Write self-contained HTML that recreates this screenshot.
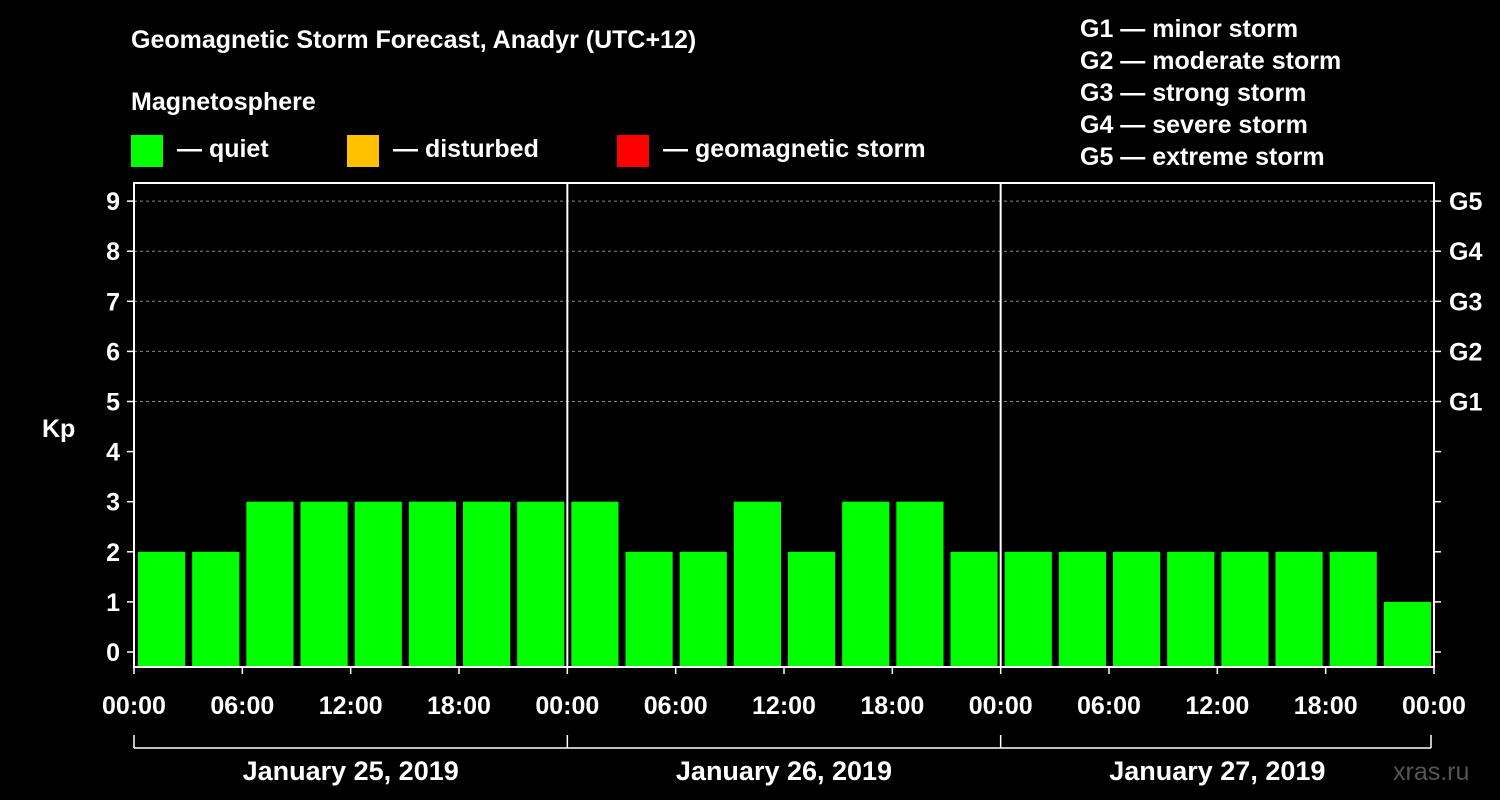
<!DOCTYPE html>
<html><head><meta charset="utf-8">
<style>
body{margin:0;background:#000;}
svg{display:block;font-family:"Liberation Sans",Arial,sans-serif;font-weight:bold;}
</style></head>
<body>
<svg id="chart" width="1500" height="800" viewBox="0 0 1500 800">
<rect width="1500" height="800" fill="#000"/>
<text x="131" y="48" fill="#fff" font-size="25">Geomagnetic Storm Forecast, Anadyr (UTC+12)</text>
<text x="131" y="110" fill="#fff" font-size="25">Magnetosphere</text>
<g><rect x="131" y="135" width="32" height="32" fill="#00ff00"/><text x="177" y="157" fill="#fff" font-size="25">— quiet</text></g>
<g><rect x="347" y="135" width="32" height="32" fill="#ffc000"/><text x="393" y="157" fill="#fff" font-size="25">— disturbed</text></g>
<g><rect x="617" y="135" width="32" height="32" fill="#ff0000"/><text x="663" y="157" fill="#fff" font-size="25">— geomagnetic storm</text></g>
<g fill="#fff" font-size="25">
<text x="1080" y="37">G1 — minor storm</text>
<text x="1080" y="69">G2 — moderate storm</text>
<text x="1080" y="101">G3 — strong storm</text>
<text x="1080" y="133">G4 — severe storm</text>
<text x="1080" y="165">G5 — extreme storm</text>
</g>
<text x="42" y="437" fill="#fff" font-size="25">Kp</text>
<g id="grid"></g><g id="bars"></g><g id="axes"></g>
<text x="1393" y="780" fill="#555" font-size="25" font-weight="normal">xras.ru</text>
</svg>
<script>
const kpValues=[2,2,3,3,3,3,3,3,3,2,2,3,2,3,3,2,2,2,2,2,2,2,2,1];
const yTicks=[0,1,2,3,4,5,6,7,8,9];
const gLabels=["G1","G2","G3","G4","G5"];
const gLevels=[5,6,7,8,9];
const timeLabels=["00:00","06:00","12:00","18:00","00:00","06:00","12:00","18:00","00:00","06:00","12:00","18:00","00:00"];
const dayLabels=["January 25, 2019","January 26, 2019","January 27, 2019"];
const NS="http://www.w3.org/2000/svg";
const L=134,R=1434,T=183,B=667;
const y=k=>652-50.1*k;
const slot=(R-L)/kpValues.length;
const x=i=>L+i*slot;
function mk(p,tag,a){const e=document.createElementNS(NS,tag);for(const k in a)e.setAttribute(k,a[k]);p.appendChild(e);return e;}
const grid=document.getElementById('grid'),bars=document.getElementById('bars'),axes=document.getElementById('axes');
gLevels.forEach(k=>{const l=mk(grid,'line',{x1:L,x2:R,y1:y(k),y2:y(k),stroke:'#888','stroke-dasharray':'3,3','stroke-width':1});

});
kpValues.forEach((v,i)=>{const c=v>=5?'#ff0000':(v>=4?'#ffc000':'#00ff00');
const r=mk(bars,'rect',{x:x(i)+4,y:y(v),width:slot-7,height:B-y(v),fill:c});

});
const f=mk(axes,'rect',{x:L,y:T,width:R-L,height:B-T,fill:'none',stroke:'#fff','stroke-width':2});


[1,2].forEach(d=>{const l=mk(axes,'line',{x1:x(d*8),x2:x(d*8),y1:T,y2:B,stroke:'#fff','stroke-width':2});

});
yTicks.forEach(k=>{mk(axes,'line',{x1:L-7,x2:L,y1:y(k),y2:y(k),stroke:'#fff','stroke-width':1.5});
mk(axes,'line',{x1:R,x2:R+7,y1:y(k),y2:y(k),stroke:'#fff','stroke-width':1.5});
const t=mk(axes,'text',{x:L-14,y:y(k)+9,fill:'#fff','font-size':25,'text-anchor':'end'});t.textContent=k;

});
gLabels.forEach((g,i)=>{const t=mk(axes,'text',{x:R+15,y:y(gLevels[i])+9,fill:'#fff','font-size':25});t.textContent=g;

});
timeLabels.forEach((s,i)=>{const xx=x(i*2);mk(axes,'line',{x1:xx,x2:xx,y1:B,y2:B+7,stroke:'#fff','stroke-width':1.5});
const t=mk(axes,'text',{x:xx,y:714,fill:'#fff','font-size':25,'text-anchor':'middle'});t.textContent=s;

});
const br=mk(axes,'line',{x1:L,x2:R-3,y1:748,y2:748,stroke:'#fff','stroke-width':1.5});


[0,8,16,24].forEach(i=>{const xx=i==24?R-3:x(i);mk(axes,'line',{x1:xx,x2:xx,y1:735,y2:748,stroke:'#fff','stroke-width':1.5});});
dayLabels.forEach((s,d)=>{const t=mk(axes,'text',{x:x(d*8+4),y:780,fill:'#fff','font-size':27,'text-anchor':'middle'});t.textContent=s;

});
</script>
</body></html>
